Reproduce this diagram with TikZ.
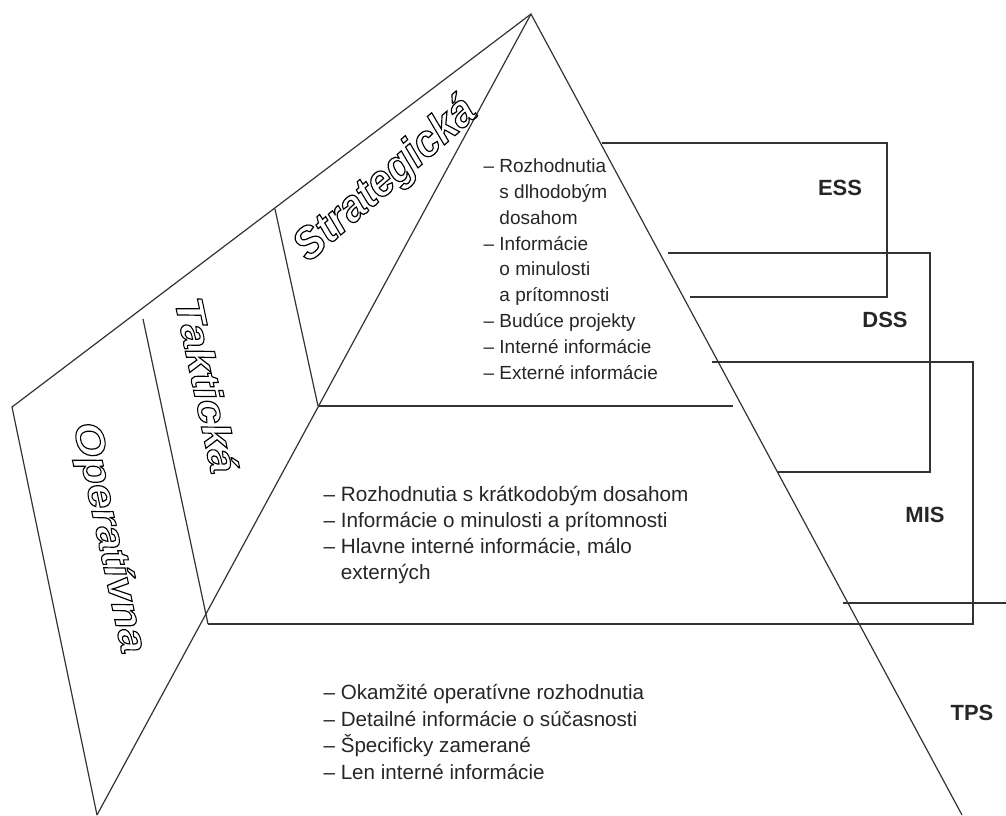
\documentclass[tikz,border=0pt]{standalone}
\usepackage{fontspec}
\setmainfont{Liberation Sans}
\usetikzlibrary{positioning}
\newcommand{\hollow}[1]{\special{pdf:literal direct 1 Tr 1.2 w}#1\special{pdf:literal direct 0 Tr}}

\begin{document}
\begin{tikzpicture}[x=1pt, y=-1pt, line width=1.2pt, draw=black!80,
  info/.style={anchor=north west, align=left, inner sep=0pt, text=black!85},
  sysname/.style={font=\fontsize{22}{22}\selectfont\bfseries, text=black!85},
  level/.style={font=\fontsize{45}{45}\selectfont\bfseries\itshape, inner sep=0pt}]
\useasboundingbox (0,0) rectangle (1006,816);
\coordinate (apex) at (531,14);
\coordinate (corner) at (12,407);
\coordinate (bl) at (97,815);
\coordinate (br) at (962,815);
\draw (bl) -- (corner) -- (apex) -- (br);
\draw (apex) -- (bl);
\draw (143,319) -- (208,624);
\draw (275,209) -- (318,406);
\draw (318,406) -- (733,406);
\draw (208,624) -- (973,624) -- (973,362) -- (712,362);
\draw (602,143) -- (887,143) -- (887,297) -- (690,297);
\draw (668,253) -- (930,253) -- (930,472) -- (778,472);
\draw (843,603) -- (1006,603);
\node[info, font=\fontsize{19}{25.9}\selectfont] (strat) at (483,158) {– Rozhodnutia\\\phantom{– }s dlhodobým\\\phantom{– }dosahom\\– Informácie\\\phantom{– }o minulosti\\\phantom{– }a prítomnosti\\– Budúce projekty\\– Interné informácie\\– Externé informácie};
\node[info, font=\fontsize{20.7}{26}\selectfont] (takt) at (323,486) {– Rozhodnutia s krátkodobým dosahom\\– Informácie o minulosti a prítomnosti\\– Hlavne interné informácie, málo\\\phantom{– }externých};
\node[info, font=\fontsize{20.6}{26.5}\selectfont] (oper) at (323,684) {– Okamžité operatívne rozhodnutia\\– Detailné informácie o súčasnosti\\– Špecificky zamerané\\– Len interné informácie};
\node[sysname] (ess) at (840,188) {ESS};
\node[sysname] (dss) at (885,320) {DSS};
\node[sysname] (mis) at (925,515) {MIS};
\node[sysname] (tps) at (972,713) {TPS};
\node[level, rotate=41] (strategicka) at (386,180) {\scalebox{0.93}[1]{\hollow{Strategická}}};
\node[level, rotate=-78] (takticka) at (207,385) {\scalebox{1}[0.88]{\hollow{Taktická}}};
\node[level, rotate=-78] (operativna) at (108,538) {\scalebox{1}[0.88]{\hollow{Operatívna}}};
\end{tikzpicture}
\end{document}
